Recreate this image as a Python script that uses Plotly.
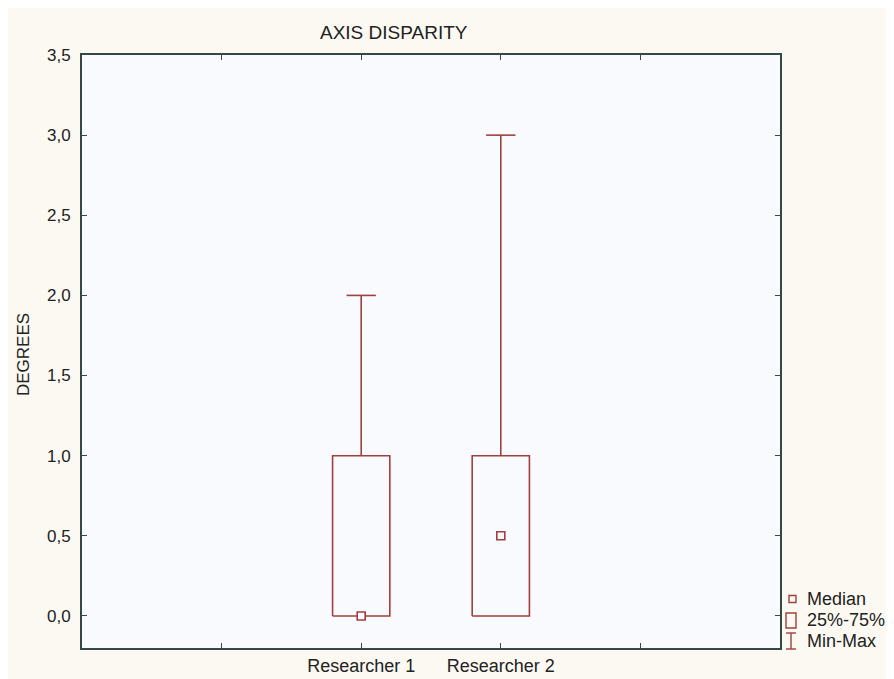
import plotly.graph_objects as go

# ---- data ----
slot_labels = ["", "Researcher 1", "Researcher 2", ""]
categories = ["Researcher 1", "Researcher 2"]
minimum = [0.0, 0.0]
q1 = [0.0, 0.0]
median = [0.0, 0.5]
q3 = [1.0, 1.0]
maximum = [2.0, 3.0]
y_ticks = [0.0, 0.5, 1.0, 1.5, 2.0, 2.5, 3.0, 3.5]

# ---- style ----
OFF = 8  # page body margin
W, H = 894 - OFF, 679 - OFF
L, R, T, B = 82 - OFF, 780 - OFF, 55 - OFF, 648 - OFF
BOX_COLOR = "#A0403E"
AXIS_COLOR = "#34484A"
PAGE_BG = "#FCF9F2"
PLOT_BG = "#F9FAFD"
FONT = "Liberation Sans, Arial, sans-serif"
half_box = 0.205
half_cap = 0.105

fig = go.Figure()

positions = [slot_labels.index(c) + 1 for c in categories]

for xpos, lo, a, m, b, hi in zip(positions, minimum, q1, median, q3, maximum):
    fig.add_trace(go.Scatter(
        x=[xpos - half_box, xpos + half_box, xpos + half_box, xpos - half_box, xpos - half_box],
        y=[a, a, b, b, a], mode="lines",
        line=dict(color=BOX_COLOR, width=1.6), showlegend=False, hoverinfo="skip"))
    if hi > b:
        fig.add_trace(go.Scatter(
            x=[xpos, xpos, None, xpos - half_cap, xpos + half_cap],
            y=[b, hi, None, hi, hi], mode="lines",
            line=dict(color=BOX_COLOR, width=1.6), showlegend=False, hoverinfo="skip"))
    if lo < a:
        fig.add_trace(go.Scatter(
            x=[xpos, xpos, None, xpos - half_cap, xpos + half_cap],
            y=[a, lo, None, lo, lo], mode="lines",
            line=dict(color=BOX_COLOR, width=1.6), showlegend=False, hoverinfo="skip"))

fig.add_trace(go.Scatter(
    x=positions, y=median, mode="markers",
    marker=dict(symbol="square", size=8, color=PLOT_BG,
                line=dict(color=BOX_COLOR, width=1.6)),
    showlegend=False, hoverinfo="skip"))

fig.update_xaxes(
    range=[0, len(slot_labels) + 1],
    tickvals=list(range(1, len(slot_labels) + 1)),
    ticktext=slot_labels,
    ticks="inside", ticklen=5, tickcolor=AXIS_COLOR, tickwidth=1,
    showline=True, linecolor=AXIS_COLOR, linewidth=2, mirror="ticks",
    showgrid=False, zeroline=False, automargin=False,
    tickfont=dict(family=FONT, size=18, color="#222"),
)
fig.update_yaxes(
    range=[-0.2, 3.5],
    tickvals=y_ticks,
    ticktext=[f"{v:.1f}".replace(".", ",") for v in y_ticks],
    ticks="inside", ticklen=5, tickcolor=AXIS_COLOR, tickwidth=1,
    showline=True, linecolor=AXIS_COLOR, linewidth=2, mirror="ticks",
    showgrid=False, zeroline=False, ticklabelstandoff=6, automargin=False,
    tickfont=dict(family=FONT, size=17, color="#222"),
)

def px(x):
    return (x - OFF - L) / (R - L)

def py(y):
    return (B - (y - OFF)) / (B - T)

shapes = []
annotations = []
annotations.append(dict(text="AXIS DISPARITY", x=px(394), y=py(33), xref="paper", yref="paper",
                        showarrow=False, xanchor="center", yanchor="middle",
                        font=dict(family=FONT, size=19, color="#222")))
annotations.append(dict(text="DEGREES", x=px(23), y=py(355), xref="paper", yref="paper",
                        showarrow=False, xanchor="center", yanchor="middle", textangle=-90,
                        font=dict(family=FONT, size=17, color="#222")))
shapes.append(dict(type="rect", xref="paper", yref="paper",
                   x0=px(789), x1=px(796), y0=py(602.5), y1=py(595.5),
                   line=dict(color=BOX_COLOR, width=1.4), fillcolor=PAGE_BG))
shapes.append(dict(type="rect", xref="paper", yref="paper",
                   x0=px(786), x1=px(796), y0=py(628), y1=py(613),
                   line=dict(color=BOX_COLOR, width=1.4), fillcolor="rgba(0,0,0,0)"))
for (x0, y0, x1, y1) in [(791, 633, 791, 649), (786, 633, 796, 633), (786, 649, 796, 649)]:
    shapes.append(dict(type="line", xref="paper", yref="paper",
                       x0=px(x0), x1=px(x1), y0=py(y0), y1=py(y1),
                       line=dict(color=BOX_COLOR, width=1.4)))
for txt, yc in [("Median", 599), ("25%-75%", 620), ("Min-Max", 641)]:
    annotations.append(dict(text=txt, x=px(805), y=py(yc), xref="paper", yref="paper",
                            showarrow=False, xanchor="left", yanchor="middle",
                            font=dict(family=FONT, size=18, color="#222")))

fig.update_layout(
    width=W, height=H,
    margin=dict(l=L, r=W - R, t=T, b=H - B, pad=0, autoexpand=False),
    paper_bgcolor=PAGE_BG, plot_bgcolor=PLOT_BG,
    showlegend=False,
    shapes=shapes, annotations=annotations,
)

fig.write_html("out.html")
